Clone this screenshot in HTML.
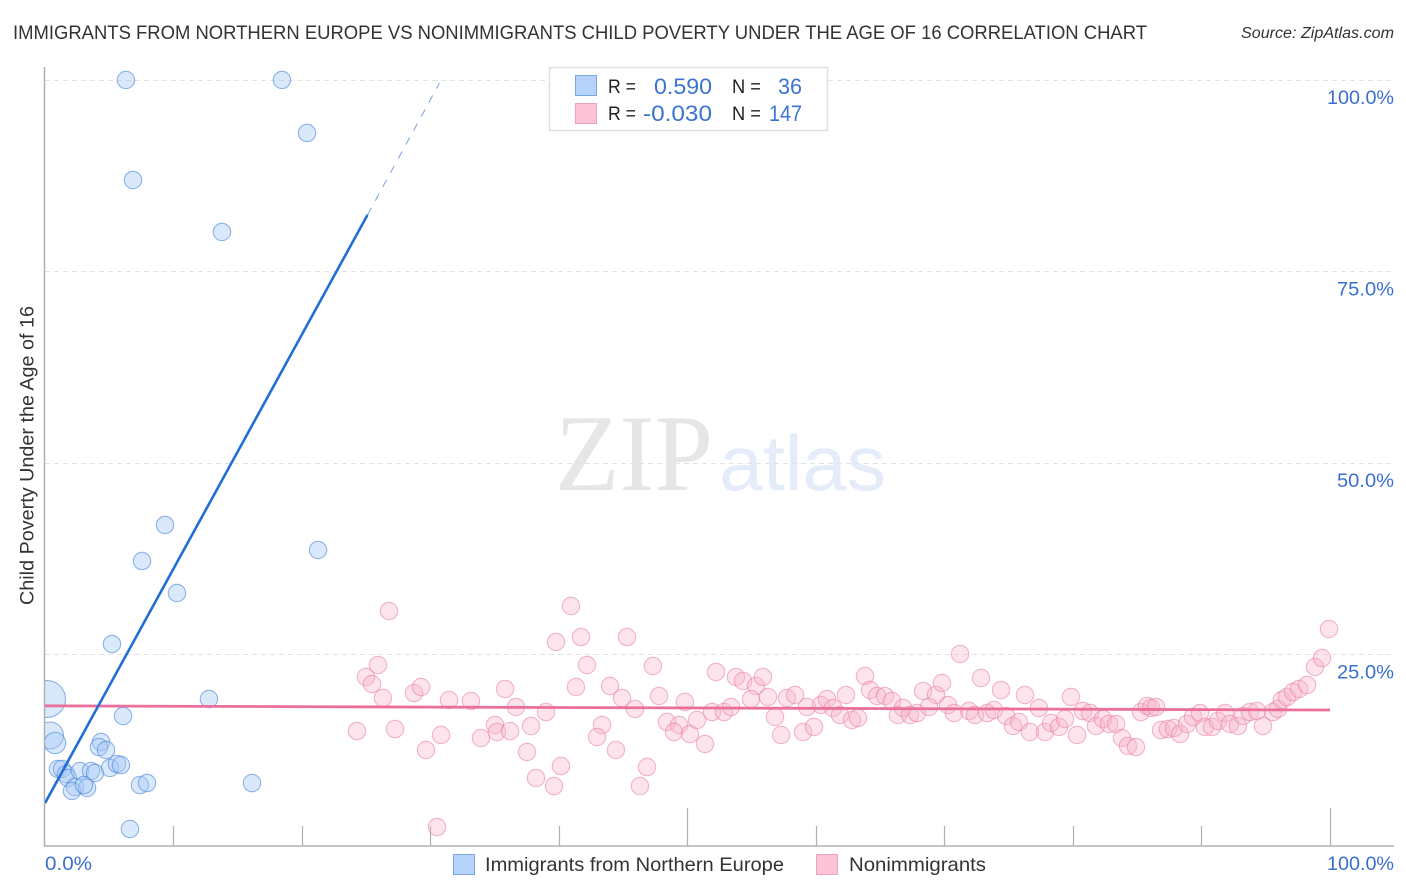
<!DOCTYPE html>
<html lang="en">
<head>
<meta charset="utf-8">
<title>Immigrants from Northern Europe vs Nonimmigrants Child Poverty Correlation Chart</title>
<style>
html,body{margin:0;padding:0;background:#fff;width:1406px;height:892px;overflow:hidden}
svg{display:block;font-family:"Liberation Sans",sans-serif}
</style>
</head>
<body>
<svg id="chart" xmlns="http://www.w3.org/2000/svg" width="1406" height="892" viewBox="0 0 1406 892">
  <defs><clipPath id="plot-clip"><rect x="45" y="60" width="1349" height="786"></rect></clipPath></defs>
  <text x="13" y="39" font-size="19.5" fill="#333" textLength="1134" lengthAdjust="spacingAndGlyphs">IMMIGRANTS FROM NORTHERN EUROPE VS NONIMMIGRANTS CHILD POVERTY UNDER THE AGE OF 16 CORRELATION CHART</text>
  <text x="1241" y="38" font-size="15.5" font-style="italic" fill="#333" textLength="153" lengthAdjust="spacingAndGlyphs">Source: ZipAtlas.com</text>
  <g>
    <text x="555" y="490" font-family="'Liberation Serif',serif" font-size="109" fill="#e6e6e6" textLength="158" lengthAdjust="spacingAndGlyphs">ZIP</text>
    <text x="719" y="490" font-size="78" fill="#e4ecf9" textLength="167" lengthAdjust="spacingAndGlyphs">atlas</text>
  </g>
  <g id="grid"></g>
  <g id="axes"></g>
  <g id="marks" clip-path="url(#plot-clip)"></g>
  <g id="labels"></g>
  <text transform="translate(33.5 455.5) rotate(-90)" text-anchor="middle" font-size="19" fill="#333" textLength="299" lengthAdjust="spacingAndGlyphs">Child Poverty Under the Age of 16</text>

  <g>
    <rect x="549.5" y="67.5" width="278" height="63" fill="#fff" stroke="#e0e0e0" stroke-width="1.5"></rect>
    <rect x="575.5" y="75.5" width="21" height="20" fill="#b5d2f8" stroke="#7ba8e0"></rect>
    <rect x="575.5" y="103.5" width="21" height="20" fill="#fcc4d6" stroke="#f0a0bb"></rect>
    <text x="608" y="93" font-size="19" fill="#222" textLength="28" lengthAdjust="spacingAndGlyphs">R =</text>
    <text x="712" y="94" font-size="22" fill="#3a74d0" text-anchor="end" textLength="58" lengthAdjust="spacingAndGlyphs">0.590</text>
    <text x="732" y="93" font-size="19" fill="#222" textLength="29" lengthAdjust="spacingAndGlyphs">N =</text>
    <text x="802" y="94" font-size="22" fill="#3a74d0" text-anchor="end" textLength="24" lengthAdjust="spacingAndGlyphs">36</text>
    <text x="608" y="120" font-size="19" fill="#222" textLength="28" lengthAdjust="spacingAndGlyphs">R =</text>
    <text x="712" y="121" font-size="22" fill="#3a74d0" text-anchor="end" textLength="69" lengthAdjust="spacingAndGlyphs">-0.030</text>
    <text x="732" y="120" font-size="19" fill="#222" textLength="29" lengthAdjust="spacingAndGlyphs">N =</text>
    <text x="802" y="121" font-size="22" fill="#3a74d0" text-anchor="end" textLength="33" lengthAdjust="spacingAndGlyphs">147</text>
  </g>

  <g>
    <g>
      <rect x="453.5" y="854.5" width="21" height="20" fill="#b5d2f8" stroke="#7ba8e0"></rect>
      <text x="485" y="871" font-size="19.5" fill="#333" textLength="299" lengthAdjust="spacingAndGlyphs">Immigrants from Northern Europe</text>
    </g>
    <g>
      <rect x="816.5" y="854.5" width="21" height="20" fill="#fcc4d6" stroke="#f0a0bb"></rect>
      <text x="849" y="871" font-size="19.5" fill="#333" textLength="137" lengthAdjust="spacingAndGlyphs">Nonimmigrants</text>
    </g>
  </g>
</svg>
<script>
const blueX = [6.30,18.44,20.39,6.85,13.77,9.34,21.25,7.55,10.27,5.21,12.76,6.07,0.16,0.39,0.78,4.36,4.20,4.75,1.01,1.32,1.63,1.79,2.33,2.10,2.72,3.58,3.89,3.27,3.03,5.06,5.60,5.91,7.39,7.94,16.11,6.61];
const blueY = [100,100,93.08,86.95,80.16,41.91,38.64,37.20,33.03,26.37,19.19,16.97,19.19,14.43,13.45,13.58,12.92,12.53,10.05,10.05,9.40,8.88,7.70,7.18,9.79,9.79,9.53,7.57,7.96,10.18,10.71,10.57,7.96,8.22,8.22,2.22];
const blueWeight = [1,1,1,1,1,1,1,1,1,1,1,1,4.5,2.4,1.5,1,1,1,1,1,1,1,1,1,1,1,1,1,1,1,1,1,1,1,1,1];
const pinkX = [26.77,40.93,39.77,41.71,45.29,42.18,47.31,25.91,24.98,25.45,26.30,28.72,29.26,31.44,33.15,35.80,36.65,38.99,41.32,43.97,44.90,45.91,47.78,49.80,24.28,27.24,30.82,29.65,33.93,35.02,35.17,36.19,37.82,37.51,38.21,39.61,40.15,43.35,42.96,44.43,46.85,46.30,30.51,48.40,49.34,48.95,50.19,
52.22,53.77,54.32,55.33,55.87,54.94,56.26,57.74,58.37,51.91,52.84,53.38,50.74,51.36,56.81,57.28,58.99,59.84,59.30,60.39,60.85,61.32,61.87,62.33,62.80,63.27,63.81,64.20,64.75,65.37,65.91,66.38,66.77,67.31,67.86,68.33,69.34,69.80,68.79,70.27,70.74,71.21,71.91,72.37,73.31,73.85,72.84,74.40,74.79,75.33,75.80,76.26,76.65,
77.35,77.82,78.29,78.91,79.38,79.84,80.31,80.78,81.32,81.79,82.33,82.80,83.35,83.81,84.28,84.90,85.29,85.76,86.07,86.46,86.85,87.39,87.86,88.33,88.87,89.34,89.88,90.27,90.82,91.28,91.83,92.22,92.84,93.23,93.77,94.32,94.78,95.56,95.95,96.26,96.65,97.12,97.59,98.21,98.83,99.38,99.92];
const pinkY = [30.68,31.33,26.63,27.28,27.28,23.63,23.50,23.63,22.06,21.15,19.32,19.97,20.76,19.06,18.93,20.50,18.15,17.49,20.76,20.89,19.32,17.89,19.58,18.80,15.01,15.27,14.49,12.53,14.10,15.80,14.88,15.01,15.67,12.27,8.88,7.83,10.44,15.80,14.23,12.53,10.31,7.83,2.48,16.19,15.80,14.88,14.62,
22.72,22.06,21.54,20.89,22.06,19.19,19.45,19.32,19.71,17.49,17.49,18.15,16.45,13.32,16.84,14.49,14.88,15.54,18.15,18.41,19.19,18.02,17.10,19.71,16.45,16.71,22.19,20.37,19.58,19.58,18.93,17.10,18.02,17.10,17.36,20.24,19.71,21.28,18.15,18.41,17.36,25.07,17.62,17.10,17.36,17.75,21.93,20.37,16.97,15.67,16.19,19.71,14.88,
18.02,14.88,16.06,15.54,16.58,19.45,14.49,17.62,17.36,15.67,16.58,15.93,15.93,14.10,13.06,12.92,17.49,18.28,18.02,18.15,15.14,15.27,15.40,14.62,15.93,16.84,17.36,15.54,15.54,16.32,17.36,15.93,15.67,16.97,17.49,17.62,15.67,17.49,17.89,19.06,19.45,20.10,20.50,21.02,23.37,24.54,28.33];
const blueTrendX = [0, 25.1];
const blueTrendY = [5.6, 82.4];
const blueTrendExtX = [25.1, 30.7];
const blueTrendExtY = [82.4, 99.6];
const pinkTrendX = [0, 100];
const pinkTrendY = [18.3, 17.75];
const yTicks = [25, 50, 75, 100];
const yTickLabels = ["25.0%", "50.0%", "75.0%", "100.0%"];
const xTicks = [10, 20, 30, 40, 50, 60, 70, 80, 90, 100];
const xEndLabels = ["0.0%", "100.0%"];

const NS = 'http://www.w3.org/2000/svg';
function xScale(v){ return 45 + v * 12.85; }
function yScale(v){ return 846 - v * 7.66; }
function make(parent, tag, attrs){
  const el = document.createElementNS(NS, tag);
  for (const k in attrs) el.setAttribute(k, attrs[k]);
  parent.appendChild(el);
  return el;
}
const grid = document.getElementById('grid');
const axes = document.getElementById('axes');
const marks = document.getElementById('marks');
const labels = document.getElementById('labels');

yTicks.forEach(function(t, i){
  const y = Math.floor(yScale(t)) + 0.5;
  const g = make(grid, 'line', {x1:45, x2:1394, y1:y, y2:y, stroke:'#e2e2e2', 'stroke-width':1, 'stroke-dasharray':'5 4'});
  
  
  const lab = make(labels, 'text', {x:1394, y:yScale(t)+24, 'text-anchor':'end', 'font-size':19.5, fill:'#3a6fd0', textLength:yTickLabels[i].length===6?67:57, lengthAdjust:'spacingAndGlyphs'});
  lab.textContent = yTickLabels[i];
  
  
});

const yAxis = make(axes, 'line', {x1:44.5, x2:44.5, y1:67, y2:846, stroke:'#b0b0b0', 'stroke-width':1.5});


const xAxis = make(axes, 'line', {x1:44, x2:1394, y1:846, y2:846, stroke:'#b0b0b0', 'stroke-width':1.5});


xTicks.forEach(function(t){
  const x = Math.floor(xScale(t)) + 0.5;
  const tick = make(axes, 'line', {x1:x, x2:x, y1:(t % 50 === 0 ? 808 : 826), y2:846, stroke:'#b0b0b0', 'stroke-width':1.2});
  
  
});

const x0 = make(labels, 'text', {x:xScale(0), y:870, 'font-size':19.5, fill:'#3a6fd0', textLength:47, lengthAdjust:'spacingAndGlyphs'});
x0.textContent = xEndLabels[0];


const x1 = make(labels, 'text', {x:1394, y:870, 'text-anchor':'end', 'font-size':19.5, fill:'#3a6fd0', textLength:67, lengthAdjust:'spacingAndGlyphs'});
x1.textContent = xEndLabels[1];



pinkX.forEach(function(v, i){
  const c = make(marks, 'circle', {cx:xScale(v), cy:yScale(pinkY[i]), r:8.7, fill:'#f8b6cd', 'fill-opacity':0.38, stroke:'#e87ea3', 'stroke-opacity':0.55, 'stroke-width':1.1});
  
  
});
blueX.forEach(function(v, i){
  const c = make(marks, 'circle', {cx:xScale(v), cy:yScale(blueY[i]), r:8.7 * Math.sqrt(blueWeight[i]), fill:'#a8c8f6', 'fill-opacity':0.42, stroke:'#4f8ad8', 'stroke-opacity':0.62, 'stroke-width':1.1});
  
  
});

const pinkLine = make(marks, 'line', {x1:xScale(pinkTrendX[0]), y1:yScale(pinkTrendY[0]), x2:xScale(pinkTrendX[1]), y2:yScale(pinkTrendY[1]), stroke:'#ea6f9b', 'stroke-width':2.8});


const blueLine = make(marks, 'line', {x1:xScale(blueTrendX[0]), y1:yScale(blueTrendY[0]), x2:xScale(blueTrendX[1]), y2:yScale(blueTrendY[1]), stroke:'#1f6fd6', 'stroke-width':2.6});


const blueExt = make(marks, 'line', {x1:xScale(blueTrendExtX[0]), y1:yScale(blueTrendExtY[0]), x2:xScale(blueTrendExtX[1]), y2:yScale(blueTrendExtY[1]), stroke:'#6d98de', 'stroke-width':0.9, 'stroke-dasharray':'8 8'});


</script>
</body>
</html>
